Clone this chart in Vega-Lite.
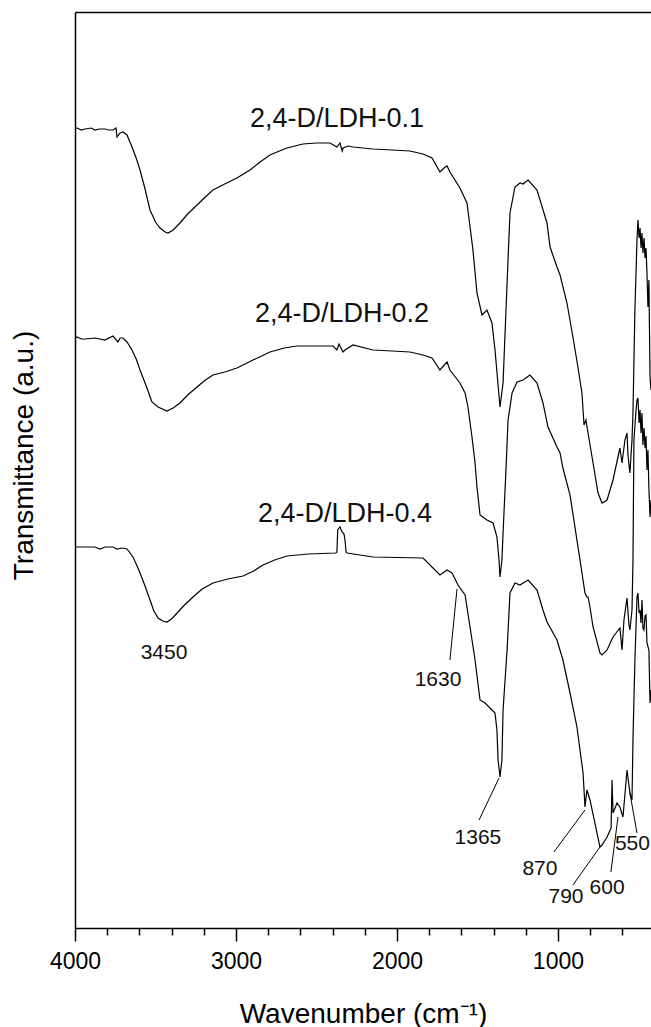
{
  "$schema": "https://vega.github.io/schema/vega-lite/v6.json",
  "width": 576,
  "height": 916,
  "autosize": "none",
  "padding": {"left": 75, "top": 12, "right": 0, "bottom": 99},
  "background": "white",
  "config": {
    "view": {"stroke": null},
    "font": "Liberation Sans",
    "axis": {
      "grid": false,
      "domainColor": "black",
      "tickColor": "black",
      "labelColor": "black",
      "titleColor": "black",
      "labelFont": "Liberation Sans",
      "titleFont": "Liberation Sans",
      "titleFontWeight": "normal",
      "domainWidth": 1.5,
      "tickWidth": 1.5
    },
    "axisY": {
      "ticks": false,
      "labels": false,
      "domain": true,
      "titleFontSize": 28,
      "titleX": -43,
      "titleY": 443,
      "titleBaseline": "alphabetic",
      "titleAngle": 270
    }
  },
  "datasets": {
    "spectra": [
      {"s": "0.1", "w": 4000, "t": 800}, {"s": "0.1", "w": 3988, "t": 800}, {"s": "0.1", "w": 3960, "t": 798}, {"s": "0.1", "w": 3938, "t": 799}, {"s": "0.1", "w": 3900, "t": 800}, {"s": "0.1", "w": 3876, "t": 798}, {"s": "0.1", "w": 3850, "t": 799}, {"s": "0.1", "w": 3814, "t": 799}, {"s": "0.1", "w": 3790, "t": 798}, {"s": "0.1", "w": 3764, "t": 798}, {"s": "0.1", "w": 3745, "t": 800}, {"s": "0.1", "w": 3739, "t": 791}, {"s": "0.1", "w": 3720, "t": 795}, {"s": "0.1", "w": 3702, "t": 796}, {"s": "0.1", "w": 3677, "t": 793}, {"s": "0.1", "w": 3646, "t": 781}, {"s": "0.1", "w": 3620, "t": 770}, {"s": "0.1", "w": 3596, "t": 758}, {"s": "0.1", "w": 3565, "t": 739}, {"s": "0.1", "w": 3534, "t": 718}, {"s": "0.1", "w": 3500, "t": 706}, {"s": "0.1", "w": 3472, "t": 700}, {"s": "0.1", "w": 3440, "t": 696}, {"s": "0.1", "w": 3422, "t": 695}, {"s": "0.1", "w": 3390, "t": 698}, {"s": "0.1", "w": 3348, "t": 705}, {"s": "0.1", "w": 3300, "t": 714}, {"s": "0.1", "w": 3242, "t": 723}, {"s": "0.1", "w": 3190, "t": 731}, {"s": "0.1", "w": 3143, "t": 738}, {"s": "0.1", "w": 3070, "t": 744}, {"s": "0.1", "w": 2994, "t": 750}, {"s": "0.1", "w": 2913, "t": 758}, {"s": "0.1", "w": 2850, "t": 766}, {"s": "0.1", "w": 2789, "t": 773}, {"s": "0.1", "w": 2730, "t": 777}, {"s": "0.1", "w": 2683, "t": 780}, {"s": "0.1", "w": 2584, "t": 784}, {"s": "0.1", "w": 2500, "t": 785}, {"s": "0.1", "w": 2416, "t": 785}, {"s": "0.1", "w": 2373, "t": 781}, {"s": "0.1", "w": 2354, "t": 785}, {"s": "0.1", "w": 2340, "t": 777}, {"s": "0.1", "w": 2335, "t": 780}, {"s": "0.1", "w": 2304, "t": 782}, {"s": "0.1", "w": 2273, "t": 781}, {"s": "0.1", "w": 2149, "t": 779}, {"s": "0.1", "w": 2030, "t": 778}, {"s": "0.1", "w": 1919, "t": 777}, {"s": "0.1", "w": 1838, "t": 774}, {"s": "0.1", "w": 1782, "t": 770}, {"s": "0.1", "w": 1733, "t": 756}, {"s": "0.1", "w": 1708, "t": 760}, {"s": "0.1", "w": 1689, "t": 762}, {"s": "0.1", "w": 1671, "t": 756}, {"s": "0.1", "w": 1609, "t": 740}, {"s": "0.1", "w": 1565, "t": 725}, {"s": "0.1", "w": 1528, "t": 678}, {"s": "0.1", "w": 1503, "t": 635}, {"s": "0.1", "w": 1472, "t": 613}, {"s": "0.1", "w": 1441, "t": 618}, {"s": "0.1", "w": 1410, "t": 605}, {"s": "0.1", "w": 1391, "t": 578}, {"s": "0.1", "w": 1372, "t": 543}, {"s": "0.1", "w": 1360, "t": 521}, {"s": "0.1", "w": 1341, "t": 545}, {"s": "0.1", "w": 1316, "t": 645}, {"s": "0.1", "w": 1298, "t": 715}, {"s": "0.1", "w": 1267, "t": 741}, {"s": "0.1", "w": 1236, "t": 745}, {"s": "0.1", "w": 1217, "t": 744}, {"s": "0.1", "w": 1186, "t": 748}, {"s": "0.1", "w": 1130, "t": 738}, {"s": "0.1", "w": 1068, "t": 705}, {"s": "0.1", "w": 1049, "t": 681}, {"s": "0.1", "w": 1006, "t": 661}, {"s": "0.1", "w": 987, "t": 653}, {"s": "0.1", "w": 944, "t": 625}, {"s": "0.1", "w": 907, "t": 591}, {"s": "0.1", "w": 876, "t": 561}, {"s": "0.1", "w": 851, "t": 535}, {"s": "0.1", "w": 838, "t": 503}, {"s": "0.1", "w": 826, "t": 508}, {"s": "0.1", "w": 813, "t": 495}, {"s": "0.1", "w": 782, "t": 465}, {"s": "0.1", "w": 751, "t": 435}, {"s": "0.1", "w": 726, "t": 425}, {"s": "0.1", "w": 695, "t": 428}, {"s": "0.1", "w": 658, "t": 448}, {"s": "0.1", "w": 615, "t": 480}, {"s": "0.1", "w": 602, "t": 465}, {"s": "0.1", "w": 584, "t": 488}, {"s": "0.1", "w": 571, "t": 495}, {"s": "0.1", "w": 565, "t": 473}, {"s": "0.1", "w": 553, "t": 455}, {"s": "0.1", "w": 540, "t": 488}, {"s": "0.1", "w": 534, "t": 515}, {"s": "0.1", "w": 522, "t": 618}, {"s": "0.1", "w": 509, "t": 688}, {"s": "0.1", "w": 503, "t": 708}, {"s": "0.1", "w": 496, "t": 690}, {"s": "0.1", "w": 490, "t": 700}, {"s": "0.1", "w": 484, "t": 680}, {"s": "0.1", "w": 478, "t": 695}, {"s": "0.1", "w": 472, "t": 675}, {"s": "0.1", "w": 465, "t": 690}, {"s": "0.1", "w": 459, "t": 670}, {"s": "0.1", "w": 453, "t": 680}, {"s": "0.1", "w": 447, "t": 655}, {"s": "0.1", "w": 441, "t": 621}, {"s": "0.1", "w": 435, "t": 648}, {"s": "0.1", "w": 428, "t": 551}, {"s": "0.1", "w": 422, "t": 538},

      {"s": "0.2", "w": 4000, "t": 590}, {"s": "0.2", "w": 3988, "t": 591}, {"s": "0.2", "w": 3960, "t": 589}, {"s": "0.2", "w": 3938, "t": 589}, {"s": "0.2", "w": 3876, "t": 590}, {"s": "0.2", "w": 3814, "t": 588}, {"s": "0.2", "w": 3764, "t": 592}, {"s": "0.2", "w": 3733, "t": 586}, {"s": "0.2", "w": 3720, "t": 590}, {"s": "0.2", "w": 3702, "t": 590}, {"s": "0.2", "w": 3677, "t": 586}, {"s": "0.2", "w": 3646, "t": 578}, {"s": "0.2", "w": 3620, "t": 569}, {"s": "0.2", "w": 3596, "t": 558}, {"s": "0.2", "w": 3553, "t": 540}, {"s": "0.2", "w": 3522, "t": 526}, {"s": "0.2", "w": 3484, "t": 521}, {"s": "0.2", "w": 3429, "t": 517}, {"s": "0.2", "w": 3390, "t": 520}, {"s": "0.2", "w": 3348, "t": 525}, {"s": "0.2", "w": 3300, "t": 533}, {"s": "0.2", "w": 3242, "t": 541}, {"s": "0.2", "w": 3190, "t": 548}, {"s": "0.2", "w": 3143, "t": 553}, {"s": "0.2", "w": 3070, "t": 556}, {"s": "0.2", "w": 2994, "t": 560}, {"s": "0.2", "w": 2894, "t": 568}, {"s": "0.2", "w": 2789, "t": 576}, {"s": "0.2", "w": 2700, "t": 580}, {"s": "0.2", "w": 2621, "t": 582}, {"s": "0.2", "w": 2397, "t": 582}, {"s": "0.2", "w": 2373, "t": 578}, {"s": "0.2", "w": 2360, "t": 584}, {"s": "0.2", "w": 2335, "t": 576}, {"s": "0.2", "w": 2323, "t": 578}, {"s": "0.2", "w": 2273, "t": 583}, {"s": "0.2", "w": 2149, "t": 578}, {"s": "0.2", "w": 2030, "t": 577}, {"s": "0.2", "w": 1919, "t": 576}, {"s": "0.2", "w": 1838, "t": 573}, {"s": "0.2", "w": 1782, "t": 570}, {"s": "0.2", "w": 1733, "t": 558}, {"s": "0.2", "w": 1689, "t": 566}, {"s": "0.2", "w": 1671, "t": 558}, {"s": "0.2", "w": 1609, "t": 545}, {"s": "0.2", "w": 1577, "t": 535}, {"s": "0.2", "w": 1559, "t": 521}, {"s": "0.2", "w": 1534, "t": 491}, {"s": "0.2", "w": 1515, "t": 465}, {"s": "0.2", "w": 1503, "t": 441}, {"s": "0.2", "w": 1484, "t": 413}, {"s": "0.2", "w": 1441, "t": 408}, {"s": "0.2", "w": 1403, "t": 405}, {"s": "0.2", "w": 1379, "t": 391}, {"s": "0.2", "w": 1366, "t": 368}, {"s": "0.2", "w": 1360, "t": 351}, {"s": "0.2", "w": 1348, "t": 368}, {"s": "0.2", "w": 1341, "t": 395}, {"s": "0.2", "w": 1323, "t": 458}, {"s": "0.2", "w": 1310, "t": 508}, {"s": "0.2", "w": 1285, "t": 535}, {"s": "0.2", "w": 1254, "t": 546}, {"s": "0.2", "w": 1217, "t": 548}, {"s": "0.2", "w": 1174, "t": 553}, {"s": "0.2", "w": 1130, "t": 545}, {"s": "0.2", "w": 1093, "t": 525}, {"s": "0.2", "w": 1062, "t": 501}, {"s": "0.2", "w": 1006, "t": 481}, {"s": "0.2", "w": 987, "t": 475}, {"s": "0.2", "w": 969, "t": 460}, {"s": "0.2", "w": 925, "t": 433}, {"s": "0.2", "w": 863, "t": 368}, {"s": "0.2", "w": 832, "t": 335}, {"s": "0.2", "w": 820, "t": 331}, {"s": "0.2", "w": 813, "t": 331}, {"s": "0.2", "w": 801, "t": 321}, {"s": "0.2", "w": 782, "t": 301}, {"s": "0.2", "w": 739, "t": 275}, {"s": "0.2", "w": 726, "t": 273}, {"s": "0.2", "w": 695, "t": 278}, {"s": "0.2", "w": 658, "t": 291}, {"s": "0.2", "w": 615, "t": 300}, {"s": "0.2", "w": 602, "t": 278}, {"s": "0.2", "w": 590, "t": 308}, {"s": "0.2", "w": 571, "t": 330}, {"s": "0.2", "w": 559, "t": 303}, {"s": "0.2", "w": 553, "t": 298}, {"s": "0.2", "w": 540, "t": 318}, {"s": "0.2", "w": 534, "t": 368}, {"s": "0.2", "w": 528, "t": 488}, {"s": "0.2", "w": 515, "t": 518}, {"s": "0.2", "w": 509, "t": 528}, {"s": "0.2", "w": 503, "t": 530}, {"s": "0.2", "w": 496, "t": 505}, {"s": "0.2", "w": 490, "t": 518}, {"s": "0.2", "w": 484, "t": 495}, {"s": "0.2", "w": 478, "t": 515}, {"s": "0.2", "w": 472, "t": 483}, {"s": "0.2", "w": 465, "t": 500}, {"s": "0.2", "w": 459, "t": 480}, {"s": "0.2", "w": 453, "t": 492}, {"s": "0.2", "w": 447, "t": 458}, {"s": "0.2", "w": 441, "t": 478}, {"s": "0.2", "w": 435, "t": 440}, {"s": "0.2", "w": 428, "t": 411}, {"s": "0.2", "w": 422, "t": 428},

      {"s": "0.4", "w": 4000, "t": 381}, {"s": "0.4", "w": 3988, "t": 381}, {"s": "0.4", "w": 3938, "t": 381}, {"s": "0.4", "w": 3876, "t": 381}, {"s": "0.4", "w": 3845, "t": 379}, {"s": "0.4", "w": 3814, "t": 381}, {"s": "0.4", "w": 3764, "t": 381}, {"s": "0.4", "w": 3739, "t": 379}, {"s": "0.4", "w": 3708, "t": 380}, {"s": "0.4", "w": 3677, "t": 379}, {"s": "0.4", "w": 3640, "t": 371}, {"s": "0.4", "w": 3620, "t": 364}, {"s": "0.4", "w": 3596, "t": 355}, {"s": "0.4", "w": 3565, "t": 342}, {"s": "0.4", "w": 3534, "t": 328}, {"s": "0.4", "w": 3510, "t": 317}, {"s": "0.4", "w": 3484, "t": 310}, {"s": "0.4", "w": 3455, "t": 307}, {"s": "0.4", "w": 3429, "t": 306}, {"s": "0.4", "w": 3400, "t": 309}, {"s": "0.4", "w": 3366, "t": 315}, {"s": "0.4", "w": 3320, "t": 323}, {"s": "0.4", "w": 3267, "t": 331}, {"s": "0.4", "w": 3210, "t": 339}, {"s": "0.4", "w": 3143, "t": 345}, {"s": "0.4", "w": 3050, "t": 349}, {"s": "0.4", "w": 2956, "t": 352}, {"s": "0.4", "w": 2890, "t": 357}, {"s": "0.4", "w": 2832, "t": 363}, {"s": "0.4", "w": 2760, "t": 368}, {"s": "0.4", "w": 2683, "t": 372}, {"s": "0.4", "w": 2550, "t": 374}, {"s": "0.4", "w": 2380, "t": 375}, {"s": "0.4", "w": 2373, "t": 376}, {"s": "0.4", "w": 2368, "t": 398}, {"s": "0.4", "w": 2354, "t": 401}, {"s": "0.4", "w": 2341, "t": 396}, {"s": "0.4", "w": 2329, "t": 394}, {"s": "0.4", "w": 2323, "t": 388}, {"s": "0.4", "w": 2316, "t": 376}, {"s": "0.4", "w": 2310, "t": 375}, {"s": "0.4", "w": 2149, "t": 371}, {"s": "0.4", "w": 1838, "t": 370}, {"s": "0.4", "w": 1776, "t": 360}, {"s": "0.4", "w": 1733, "t": 353}, {"s": "0.4", "w": 1689, "t": 358}, {"s": "0.4", "w": 1658, "t": 355}, {"s": "0.4", "w": 1621, "t": 343}, {"s": "0.4", "w": 1577, "t": 333}, {"s": "0.4", "w": 1546, "t": 301}, {"s": "0.4", "w": 1515, "t": 268}, {"s": "0.4", "w": 1484, "t": 228}, {"s": "0.4", "w": 1453, "t": 225}, {"s": "0.4", "w": 1422, "t": 220}, {"s": "0.4", "w": 1391, "t": 215}, {"s": "0.4", "w": 1379, "t": 198}, {"s": "0.4", "w": 1372, "t": 168}, {"s": "0.4", "w": 1360, "t": 151}, {"s": "0.4", "w": 1348, "t": 168}, {"s": "0.4", "w": 1341, "t": 218}, {"s": "0.4", "w": 1316, "t": 278}, {"s": "0.4", "w": 1298, "t": 335}, {"s": "0.4", "w": 1267, "t": 345}, {"s": "0.4", "w": 1236, "t": 343}, {"s": "0.4", "w": 1186, "t": 348}, {"s": "0.4", "w": 1130, "t": 338}, {"s": "0.4", "w": 1093, "t": 318}, {"s": "0.4", "w": 1068, "t": 306}, {"s": "0.4", "w": 1006, "t": 288}, {"s": "0.4", "w": 969, "t": 268}, {"s": "0.4", "w": 925, "t": 235}, {"s": "0.4", "w": 882, "t": 201}, {"s": "0.4", "w": 844, "t": 155}, {"s": "0.4", "w": 832, "t": 121}, {"s": "0.4", "w": 826, "t": 130}, {"s": "0.4", "w": 820, "t": 138}, {"s": "0.4", "w": 801, "t": 128}, {"s": "0.4", "w": 739, "t": 81}, {"s": "0.4", "w": 726, "t": 83}, {"s": "0.4", "w": 695, "t": 91}, {"s": "0.4", "w": 670, "t": 100}, {"s": "0.4", "w": 664, "t": 148}, {"s": "0.4", "w": 658, "t": 115}, {"s": "0.4", "w": 633, "t": 125}, {"s": "0.4", "w": 615, "t": 121}, {"s": "0.4", "w": 596, "t": 111}, {"s": "0.4", "w": 571, "t": 158}, {"s": "0.4", "w": 553, "t": 135}, {"s": "0.4", "w": 540, "t": 128}, {"s": "0.4", "w": 534, "t": 188}, {"s": "0.4", "w": 522, "t": 268}, {"s": "0.4", "w": 509, "t": 331}, {"s": "0.4", "w": 503, "t": 335}, {"s": "0.4", "w": 496, "t": 315}, {"s": "0.4", "w": 490, "t": 318}, {"s": "0.4", "w": 484, "t": 305}, {"s": "0.4", "w": 478, "t": 328}, {"s": "0.4", "w": 472, "t": 300}, {"s": "0.4", "w": 466, "t": 298}, {"s": "0.4", "w": 459, "t": 312}, {"s": "0.4", "w": 453, "t": 313}, {"s": "0.4", "w": 447, "t": 285}, {"s": "0.4", "w": 435, "t": 278}, {"s": "0.4", "w": 428, "t": 225}, {"s": "0.4", "w": 422, "t": 238}
    ],
    "leaders": [
      {"w": 1671, "t": 268, "w2": 1627, "t2": 339},
      {"w": 1490, "t": 108, "w2": 1366, "t2": 150},
      {"w": 1025, "t": 76, "w2": 832, "t2": 118},
      {"w": 907, "t": 43, "w2": 739, "t2": 81},
      {"w": 671, "t": 56, "w2": 627, "t2": 111},
      {"w": 509, "t": 95, "w2": 553, "t2": 135}
    ],
    "peaks": [
      {"w": 3447, "t": 269, "label": "3450"},
      {"w": 1745, "t": 242, "label": "1630"},
      {"w": 1497, "t": 84, "label": "1365"},
      {"w": 1112, "t": 53, "label": "870"},
      {"w": 950, "t": 25, "label": "790"},
      {"w": 695, "t": 34, "label": "600"}
    ],
    "edgePeaks": [
      {"w": 646, "t": 78, "label": "550"}
    ],
    "names": [
      {"w": 2913, "t": 801, "label": "2,4-D/LDH-0.1"},
      {"w": 2882, "t": 606, "label": "2,4-D/LDH-0.2"},
      {"w": 2863, "t": 406, "label": "2,4-D/LDH-0.4"}
    ]
  },
  "resolve": {"scale": {"x": "shared", "y": "shared"}, "axis": {"x": "independent"}},
  "layer": [
    {
      "data": {"name": "spectra"},
      "mark": {"type": "line", "color": "black", "strokeWidth": 1.2, "clip": true},
      "encoding": {
        "x": {
          "field": "w", "type": "quantitative",
          "scale": {"domain": [4000, 422], "nice": false, "zero": false},
          "axis": {
            "orient": "bottom",
            "values": [4000, 3000, 2000, 1000],
            "tickSize": 13,
            "labelFontSize": 23,
            "labelPadding": 9,
            "labelFlush": false,
            "labelOverlap": false,
            "format": "d",
            "title": "Wavenumber (cm⁻¹)",
            "titleFontSize": 28,
            "titleY": 94,
            "titleBaseline": "alphabetic"
          }
        },
        "y": {
          "field": "t", "type": "quantitative",
          "scale": {"domain": [0, 916], "nice": false, "zero": false},
          "title": "Transmittance (a.u.)"
        },
        "detail": {"field": "s"}
      }
    },
    {
      "data": {"name": "leaders"},
      "mark": {"type": "rule", "color": "black", "strokeWidth": 1},
      "encoding": {
        "x": {
          "field": "w", "type": "quantitative",
          "axis": {
            "orient": "bottom",
            "values": [3800, 3600, 3400, 3200, 2800, 2600, 2400, 2200, 1800, 1600, 1400, 1200, 800, 600],
            "tickSize": 7,
            "labels": false,
            "domain": false,
            "title": null
          }
        },
        "x2": {"field": "w2"},
        "y": {"field": "t", "type": "quantitative", "title": "Transmittance (a.u.)"},
        "y2": {"field": "t2"}
      }
    },
    {
      "data": {"name": "peaks"},
      "mark": {"type": "text", "color": "#111111", "fontSize": 21, "font": "Liberation Sans", "align": "center", "baseline": "alphabetic"},
      "encoding": {
        "x": {
          "field": "w", "type": "quantitative",
          "axis": {"orient": "top", "ticks": false, "labels": false, "domain": true, "title": null}
        },
        "y": {"field": "t", "type": "quantitative", "title": "Transmittance (a.u.)"},
        "text": {"field": "label"}
      }
    },
    {
      "data": {"name": "edgePeaks"},
      "mark": {"type": "text", "color": "#111111", "fontSize": 21, "font": "Liberation Sans", "align": "left", "baseline": "alphabetic"},
      "encoding": {
        "x": {"field": "w", "type": "quantitative", "axis": null},
        "y": {"field": "t", "type": "quantitative", "title": "Transmittance (a.u.)"},
        "text": {"field": "label"}
      }
    },
    {
      "data": {"name": "names"},
      "mark": {"type": "text", "color": "#111111", "fontSize": 27, "font": "Liberation Sans", "align": "left", "baseline": "alphabetic"},
      "encoding": {
        "x": {"field": "w", "type": "quantitative", "axis": null},
        "y": {"field": "t", "type": "quantitative", "title": "Transmittance (a.u.)"},
        "text": {"field": "label"}
      }
    }
  ]
}
